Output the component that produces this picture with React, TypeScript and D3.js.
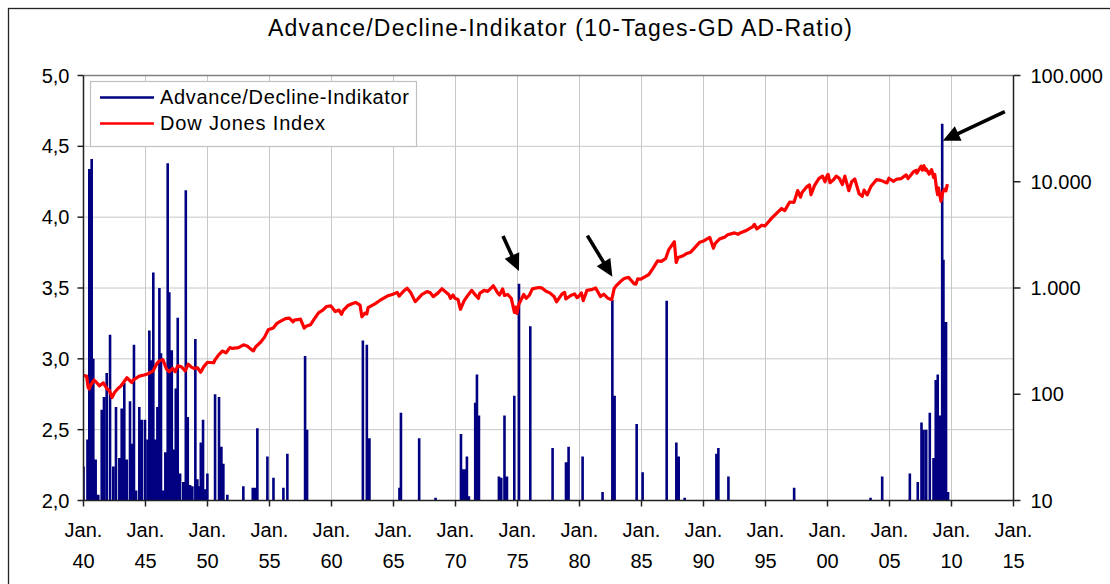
import React from 'react';
import * as d3 from 'd3';

// ---- axis ticks ----
const xTickYears = [1940, 1945, 1950, 1955, 1960, 1965, 1970, 1975, 1980, 1985, 1990, 1995, 2000, 2005, 2010, 2015];
const xTickLabels = ['40', '45', '50', '55', '60', '65', '70', '75', '80', '85', '90', '95', '00', '05', '10', '15'];
const leftTicks = [2.0, 2.5, 3.0, 3.5, 4.0, 4.5, 5.0];
const leftTickLabels = ['2,0', '2,5', '3,0', '3,5', '4,0', '4,5', '5,0'];
const rightTicks = [10, 100, 1000, 10000, 100000];
const rightTickLabels = ['10', '100', '1.000', '10.000', '100.000'];

// ---- Advance/Decline-Indikator spikes (date, value) ----
const adDates = [
  1940.0, 1940.32, 1940.47, 1940.66, 1940.79, 1940.98, 1941.19, 1941.47, 1941.65, 1941.87,
  1942.14, 1942.40, 1942.62, 1942.89, 1943.08, 1943.29, 1943.49, 1943.75, 1943.91, 1944.07,
  1944.24, 1944.50, 1944.70, 1944.96, 1945.18, 1945.31, 1945.45, 1945.63, 1945.79, 1945.96,
  1946.12, 1946.25, 1946.44, 1946.60, 1946.79, 1946.92, 1947.12, 1947.25, 1947.44, 1947.60,
  1947.79, 1948.05, 1948.25, 1948.41, 1948.59, 1948.78, 1949.02, 1949.18, 1949.34, 1949.46,
  1949.64, 1949.83, 1949.99, 1950.61, 1950.93, 1951.12, 1951.28, 1951.60, 1952.89, 1953.65,
  1953.84, 1954.02, 1954.83, 1955.32, 1956.12, 1956.44, 1957.87, 1958.03, 1962.53, 1962.85,
  1963.06, 1965.48, 1965.60, 1967.07, 1968.39, 1970.44, 1970.60, 1970.76, 1970.92, 1971.08,
  1971.59, 1971.73, 1971.89, 1973.50, 1973.69, 1973.95, 1974.15, 1974.74, 1975.12, 1976.03,
  1977.83, 1978.91, 1979.12, 1980.25, 1981.86, 1982.65, 1982.83, 1984.61, 1985.09, 1987.03,
  1987.81, 1988.00, 1988.48, 1991.04, 1991.20, 1992.01, 1997.31, 2003.47, 2004.41, 2006.64,
  2007.28, 2007.58, 2007.74, 2007.96, 2008.25, 2008.55, 2008.73, 2008.89, 2009.07, 2009.25,
  2009.35, 2009.46, 2009.56, 2009.72,
];
const adValues = [
  2.24, 2.43, 4.34, 4.41, 3.00, 2.29, 2.04, 2.64, 2.73, 2.90,
  3.17, 2.24, 2.66, 2.30, 2.65, 2.83, 2.29, 2.70, 2.40, 3.10,
  2.07, 2.66, 2.57, 2.57, 2.43, 3.20, 2.99, 3.61, 2.43, 2.66,
  3.50, 3.04, 2.07, 2.34, 4.38, 3.47, 3.06, 2.36, 2.79, 3.29,
  2.19, 2.13, 4.19, 2.59, 2.11, 2.10, 3.14, 2.15, 2.10, 2.41,
  2.57, 2.08, 2.19, 2.75, 2.73, 2.38, 2.26, 2.04, 2.10, 2.09,
  2.09, 2.51, 2.31, 2.16, 2.09, 2.33, 3.02, 2.50, 3.13, 3.10,
  2.44, 2.09, 2.62, 2.44, 2.02, 2.47, 2.22, 2.22, 2.31, 2.03,
  2.69, 2.89, 2.60, 2.17, 2.16, 2.60, 2.17, 2.74, 3.53, 3.23,
  2.37, 2.27, 2.38, 2.31, 2.06, 3.415, 2.74, 2.54, 2.20, 3.41,
  2.41, 2.31, 2.02, 2.33, 2.37, 2.17, 2.09, 2.02, 2.17, 2.19,
  2.13, 2.55, 2.50, 2.50, 2.62, 2.30, 2.85, 2.89, 2.60, 4.66,
  3.70, 2.74, 3.26, 2.06,
];

// ---- Dow Jones Index (date, value) ----
const dowDates = [
  1940.0, 1940.25, 1940.37, 1940.45, 1940.6, 1940.85, 1941.0, 1941.3, 1941.6, 1941.9,
  1942.1, 1942.3, 1942.5, 1942.8, 1943.0, 1943.5, 1943.9, 1944.0, 1944.5, 1944.9,
  1945.2, 1945.6, 1945.9, 1946.1, 1946.4, 1946.7, 1946.9, 1947.2, 1947.4, 1947.6,
  1947.9, 1948.2, 1948.45, 1948.7, 1948.9, 1949.2, 1949.45, 1949.7, 1950.0, 1950.5,
  1950.6, 1950.9, 1951.2, 1951.5, 1951.8, 1952.0, 1952.5, 1952.9, 1953.2, 1953.5,
  1953.7, 1953.9, 1954.3, 1954.6, 1954.9, 1955.3, 1955.6, 1955.9, 1956.3, 1956.6,
  1956.9, 1957.0, 1957.5, 1957.8, 1957.95, 1958.3, 1958.6, 1958.95, 1959.3, 1959.6,
  1959.95, 1960.3, 1960.6, 1960.8, 1960.95, 1961.3, 1961.7, 1961.95, 1962.3, 1962.45,
  1962.7, 1962.85, 1962.95, 1963.5, 1963.9, 1964.5, 1964.95, 1965.3, 1965.45, 1965.8,
  1966.1, 1966.4, 1966.75, 1966.95, 1967.3, 1967.7, 1967.95, 1968.2, 1968.6, 1968.9,
  1969.2, 1969.45, 1969.6, 1969.8, 1969.95, 1970.2, 1970.4, 1970.7, 1970.95, 1971.3,
  1971.6, 1971.85, 1971.95, 1972.3, 1972.6, 1972.95, 1973.05, 1973.4, 1973.55, 1973.8,
  1973.95, 1974.2, 1974.5, 1974.75, 1974.85, 1974.95, 1975.1, 1975.5, 1975.7, 1975.95,
  1976.2, 1976.7, 1976.95, 1977.3, 1977.6, 1977.95, 1978.15, 1978.6, 1978.8, 1978.9,
  1979.3, 1979.6, 1979.8, 1979.95, 1980.15, 1980.3, 1980.6, 1980.95, 1981.3, 1981.7,
  1981.95, 1982.3, 1982.6, 1982.8, 1982.95, 1983.3, 1983.6, 1983.95, 1984.4, 1984.55,
  1984.7, 1984.95, 1985.3, 1985.6, 1985.95, 1986.3, 1986.6, 1986.95, 1987.2, 1987.65,
  1987.8, 1987.95, 1988.3, 1988.6, 1988.95, 1989.3, 1989.7, 1989.95, 1990.5, 1990.8,
  1990.95, 1991.3, 1991.7, 1991.95, 1992.5, 1992.8, 1992.95, 1993.5, 1993.95, 1994.1,
  1994.3, 1994.7, 1994.95, 1995.5, 1995.95, 1996.3, 1996.55, 1996.95, 1997.3, 1997.6,
  1997.82, 1997.95, 1998.3, 1998.55, 1998.67, 1998.95, 1999.3, 1999.6, 1999.8, 1999.98,
  2000.05, 2000.2, 2000.5, 2000.7, 2000.95, 2001.2, 2001.4, 2001.72, 2001.95, 2002.2,
  2002.55, 2002.8, 2002.95, 2003.2, 2003.5, 2003.95, 2004.3, 2004.8, 2004.95, 2005.3,
  2005.6, 2005.95, 2006.35, 2006.5, 2006.95, 2007.15, 2007.2, 2007.55, 2007.65, 2007.78,
  2007.9, 2007.95, 2008.2, 2008.4, 2008.55, 2008.65, 2008.8, 2008.88, 2008.95, 2009.15,
  2009.3, 2009.45, 2009.55, 2009.67,
];
const dowValues = [
  150, 148, 116, 112, 123, 136, 131, 120, 128, 112,
  108, 93, 104, 114, 119, 143, 129, 136, 148, 152,
  156, 165, 193, 205, 212, 172, 163, 175, 163, 185,
  181, 166, 192, 180, 175, 177, 161, 182, 200, 198,
  210, 235, 255, 245, 275, 270, 275, 292, 285, 266,
  256, 281, 310, 345, 404, 420, 465, 488, 515, 520,
  480, 499, 510, 420, 436, 450, 510, 584, 620, 670,
  679, 600, 620, 566, 616, 680, 715, 731, 690, 536,
  580, 570, 652, 710, 763, 840, 874, 910, 840, 930,
  995, 900, 744, 786, 870, 925, 905, 830, 900, 985,
  920, 870, 800, 860, 800, 780, 631, 760, 839, 950,
  860, 800, 890, 950, 930, 1020, 1051, 900, 860, 980,
  851, 870, 800, 590, 660, 577, 700, 870, 800, 852,
  980, 1010, 1004, 930, 900, 831, 742, 880, 910, 790,
  850, 880, 810, 838, 900, 759, 950, 964, 1000, 830,
  875, 800, 776, 990, 1046, 1150, 1230, 1258, 1100, 1087,
  1220, 1211, 1280, 1340, 1546, 1800, 1780, 1896, 2300, 2722,
  1738, 1938, 2000, 2100, 2168, 2400, 2700, 2753, 2999, 2365,
  2633, 2900, 3000, 3168, 3300, 3200, 3301, 3500, 3754, 3970,
  3600, 3900, 3834, 4550, 5117, 5600, 5350, 6448, 6400, 8259,
  7160, 7908, 8900, 9337, 7539, 9181, 10700, 11300, 10000, 11497,
  11723, 9796, 10500, 11300, 10787, 9400, 11300, 8236, 10021, 10600,
  7700, 7286, 8342, 7524, 9000, 10454, 10300, 9750, 10783, 10100,
  10600, 10718, 11600, 10700, 12463, 12800, 12050, 14000, 12850, 14165,
  12800, 13265, 11800, 13000, 11000, 11700, 8500, 7550, 8776, 6547,
  8000, 8500, 8200, 9500,
];

// ---- annotation arrows: tip (date, A/D value) and tail offset in px ----
const arrowDates = [1975.12, 1982.65, 2009.3];
const arrowValues = [3.62, 3.58, 4.54];
const arrowOffsets: [number, number][] = [[-16, -35], [-25, -41], [62, -29]];

const FONT = '"Liberation Sans", Arial, sans-serif';

export default function App() {
  const W = 1110, H = 584;
  const L = 83.5, R = 1013.5, T = 75.5, B = 500.5;
  const x = d3.scaleLinear().domain([1940, 2015]).range([L, R]);
  const yL = d3.scaleLinear().domain([2, 5]).range([B, T]);
  const yR = d3.scaleLog().domain([10, 100000]).range([B, T]);

  const dowLine = d3.line<number>()
    .x((_, i) => x(dowDates[i]))
    .y((_, i) => yR(dowValues[i]))(dowValues) || '';

  const spikePath = adDates
    .map((d, i) => `M${x(d).toFixed(2)},${(B + 2).toFixed(2)}L${x(d).toFixed(2)},${yL(adValues[i]).toFixed(2)}`)
    .join('');

  const arrows = arrowDates.map((d, i) => {
    const tx = x(d), ty = yL(arrowValues[i]);
    const [ox, oy] = arrowOffsets[i];
    const sx = tx + ox, sy = ty + oy;
    const len = Math.hypot(ox, oy);
    const ux = -ox / len, uy = -oy / len;
    const hl = 17, hw = 8;
    const bx = tx - ux * hl, by = ty - uy * hl;
    const px = -uy, py = ux;
    const head = `M${tx},${ty}L${bx + px * hw},${by + py * hw}L${bx - px * hw},${by - py * hw}Z`;
    return { sx, sy, bx: tx - ux * (hl - 2), by: ty - uy * (hl - 2), head };
  });

  return (
    <svg width={W} height={H} style={{ position: 'absolute', left: 0, top: 0, background: '#fff' }}
      fontFamily={FONT}>
      <defs>
        <clipPath id="plotClip">
          <rect x={L} y={T} width={R - L} height={B - T} />
        </clipPath>
      </defs>
      <rect x={0} y={0} width={W} height={H} fill="#fff" />
      <rect x={8.5} y={8.5} width={W + 20} height={H + 20} fill="none" stroke="#222" strokeWidth={1.3} />

      <text x={560} y={36} textAnchor="middle" fontSize={23} textLength={584} lengthAdjust="spacing" fill="#000">
        Advance/Decline-Indikator (10-Tages-GD AD-Ratio)
      </text>

      <g stroke="#c8c8c8" strokeWidth={1}>
        {xTickYears.slice(1, -1).map(yr => (
          <line key={'v' + yr} x1={x(yr)} x2={x(yr)} y1={T} y2={B} />
        ))}
        {leftTicks.slice(1, -1).map(v => (
          <line key={'h' + v} x1={L} x2={R} y1={yL(v)} y2={yL(v)} />
        ))}
      </g>
      <line x1={L} x2={R} y1={T} y2={T} stroke="#808080" strokeWidth={1.5} />

      <g clipPath="url(#plotClip)">
        <path d={spikePath} fill="none" stroke="#000080" strokeWidth={2.6} />
        <path d={dowLine} fill="none" stroke="#ff0000" strokeWidth={3.2} strokeLinejoin="round" />
      </g>

      <g stroke="#222" strokeWidth={1.5}>
        <line x1={L} x2={L} y1={T} y2={B} />
        <line x1={R} x2={R} y1={T} y2={B} />
        <line x1={L} x2={R} y1={B} y2={B} />
        {leftTicks.map(v => (
          <line key={'lt' + v} x1={L - 6} x2={L} y1={yL(v)} y2={yL(v)} />
        ))}
        {rightTicks.map(v => (
          <line key={'rt' + v} x1={R} x2={R + 7} y1={yR(v)} y2={yR(v)} />
        ))}
        {xTickYears.map(yr => (
          <line key={'xt' + yr} x1={x(yr)} x2={x(yr)} y1={B} y2={B + 6} />
        ))}
      </g>

      <g fontSize={20} fill="#000">
        {leftTicks.map((v, i) => (
          <text key={'ll' + v} x={L - 14} y={yL(v) + 7} textAnchor="end">{leftTickLabels[i]}</text>
        ))}
        {rightTicks.map((v, i) => (
          <text key={'rl' + v} x={R + 17} y={yR(v) + 7} textAnchor="start">{rightTickLabels[i]}</text>
        ))}
        {xTickYears.map((yr, i) => (
          <g key={'xl' + yr}>
            <text x={x(yr)} y={537} textAnchor="middle">Jan.</text>
            <text x={x(yr)} y={568} textAnchor="middle">{xTickLabels[i]}</text>
          </g>
        ))}
      </g>

      <rect x={90.5} y={81.5} width={326} height={65} fill="#fff" stroke="#c0c0c0" strokeWidth={1.2} />
      <line x1={100} x2={154} y1={97.5} y2={97.5} stroke="#000080" strokeWidth={2.6} />
      <line x1={100} x2={154} y1={123.5} y2={123.5} stroke="#ff0000" strokeWidth={2.6} />
      <text x={160} y={104} fontSize={20} textLength={249} lengthAdjust="spacing">Advance/Decline-Indikator</text>
      <text x={160} y={130} fontSize={20} textLength={165} lengthAdjust="spacing">Dow Jones Index</text>

      {arrows.map((a, i) => (
        <g key={'ar' + i}>
          <line x1={a.sx} y1={a.sy} x2={a.bx} y2={a.by} stroke="#000" strokeWidth={3.6} />
          <path d={a.head} fill="#000" />
        </g>
      ))}
    </svg>
  );
}
